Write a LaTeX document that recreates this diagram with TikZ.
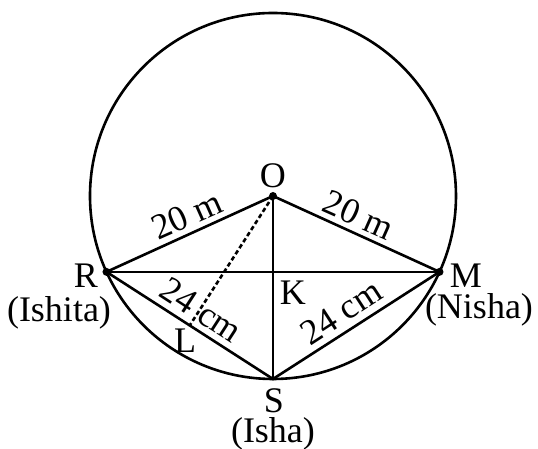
\documentclass[tikz,border=0pt]{standalone}
\usepackage{fontspec}
\setmainfont{Liberation Serif}
\usepackage{tikz}
\usetikzlibrary{calc}

\begin{document}
\begin{tikzpicture}[
        x=0.5pt, y=0.5pt,
        line width=1.3pt,
        lbl/.style={font=\fontsize{18}{21}\selectfont, inner sep=0pt},
        dot/.style={circle, fill=black, inner sep=0pt, minimum size=4pt},
        guide/.style={line width=1.3pt, dash pattern=on 2.2pt off 1.4pt},
    ]
        \useasboundingbox (-273,-253) rectangle (265,196);

        % Points
        \coordinate (O) at (0,0);
        \coordinate (R) at (204.5:183);
        \coordinate (M) at (-24.5:183);
        \coordinate (S) at (-90:183);
        \coordinate (K) at ($(R)!(O)!(M)$);
        \coordinate (L) at ($(R)!(O)!(S)$);

        % Circle
        \draw (O) circle (183);

        % Chords and radii
        \draw (R) -- (O) -- (M);
        \draw (R) -- (M);
        \draw (O) -- (S);
        \draw (R) -- (S) -- (M);
        \draw[guide] (O) -- (L);

        % Dots
        \node[dot] (o) at (O) {};
        \node[dot] (r) at (R) {};
        \node[dot] (m) at (M) {};

        % Point labels
        \node[lbl] (labO) at (0,20) {O};
        \node[lbl] (labR) at (-187,-80) {R};
        \node[lbl] (ishita) at (-214,-117) {(Ishita)};
        \node[lbl] (labM) at (193,-80) {M};
        \node[lbl] (nisha) at (206,-114) {(Nisha)};
        \node[lbl] (labK) at (20,-97) {K};
        \node[lbl] (labL) at (-88,-145) {L};
        \node[lbl] (labS) at (1,-205) {S};
        \node[lbl] (isha) at (0,-237.5) {(Isha)};

        % Lengths
        \node[lbl, rotate=24] (ro) at (-86,-19) {20 m};
        \node[lbl, rotate=-24] (om) at (86,-19) {20 m};
        \node[lbl, rotate=-33] (rs) at (-72,-114) {24 cm};
        \node[lbl, rotate=33] (sm) at (68,-116) {24 cm};
    \end{tikzpicture}
\end{document}
